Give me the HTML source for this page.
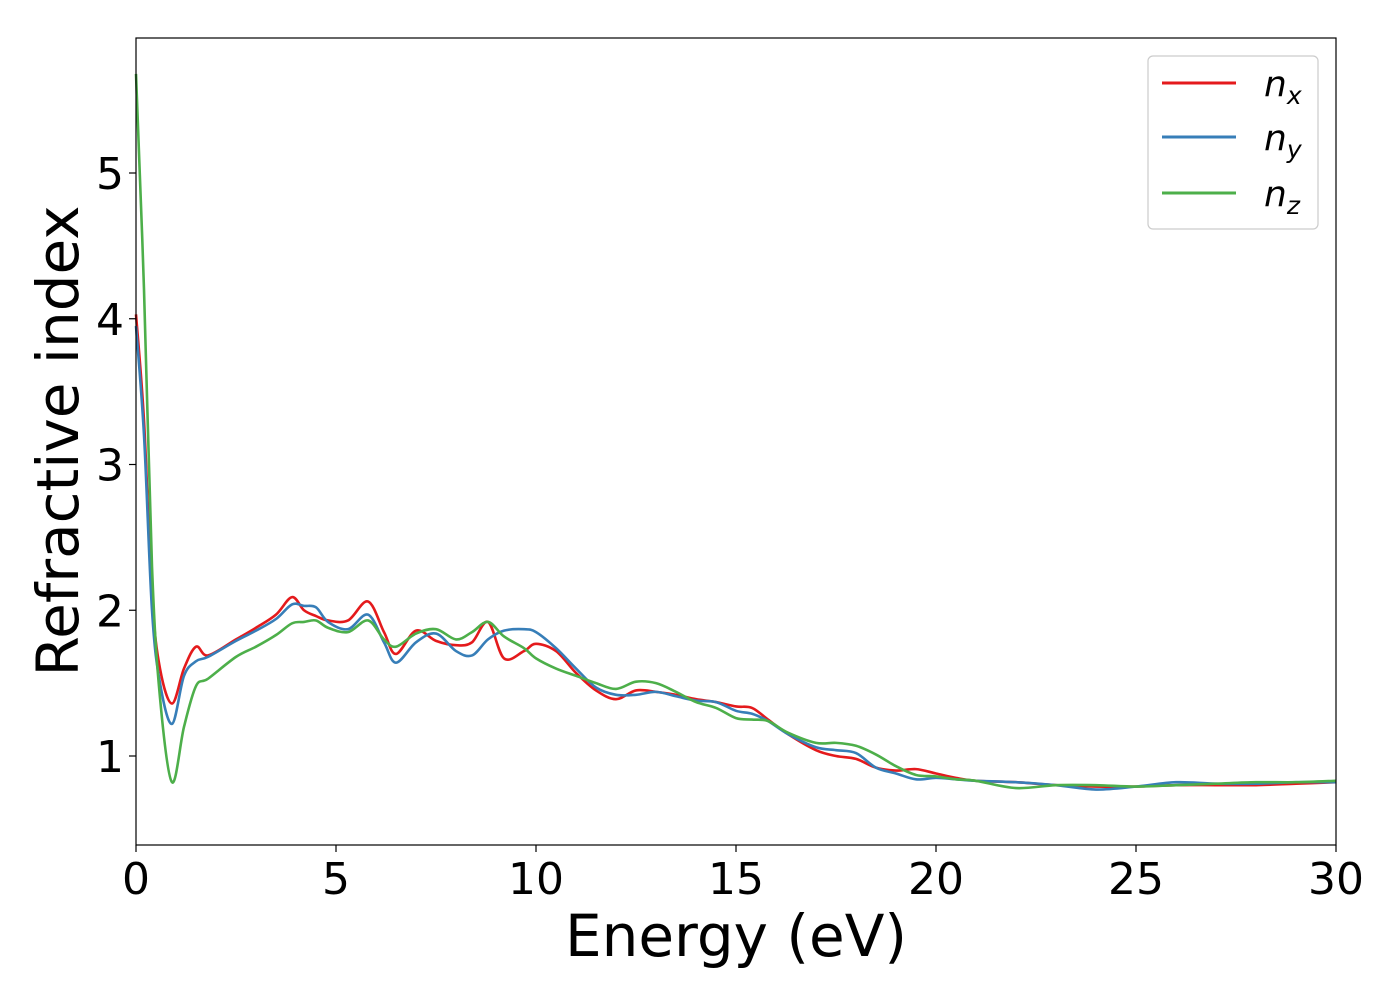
<!DOCTYPE html>
<html><head><meta charset="utf-8"><style>body{margin:0;background:#fff}svg{display:block}text{font-family:"DejaVu Sans","Liberation Sans",sans-serif}</style></head>
<body>
<svg id="chart" width="1400" height="1000" xmlns="http://www.w3.org/2000/svg">
<rect x="0" y="0" width="1400" height="1000" fill="#fff"/>
<g id="series"></g>
<g id="axes"></g>
<rect x="136" y="38" width="1200" height="807" fill="none" stroke="#000" stroke-width="1.2"/>
<text x="736" y="956" font-size="58" text-anchor="middle">Energy (eV)</text>
<text transform="translate(78,441) rotate(-90)" font-size="58" text-anchor="middle">Refractive index</text>
<g>
<rect x="1148" y="56" width="170" height="173" rx="5" fill="#fff" stroke="#ccc" stroke-width="1.2"/>
<line x1="1162" y1="83" x2="1236" y2="83" stroke="#e41a1c" stroke-width="3"/>
<text x="1264" y="96" font-size="36" font-style="italic">n<tspan font-size="25" dy="8">x</tspan></text>
<line x1="1162" y1="137" x2="1236" y2="137" stroke="#377eb8" stroke-width="3"/>
<text x="1264" y="150" font-size="36" font-style="italic">n<tspan font-size="25" dy="8">y</tspan></text>
<line x1="1162" y1="193" x2="1236" y2="193" stroke="#4daf4a" stroke-width="3"/>
<text x="1264" y="206" font-size="36" font-style="italic">n<tspan font-size="25" dy="8">z</tspan></text>
</g>
</svg>
<script>
const energies=[0,0.2,0.4,0.6,0.9,1.2,1.5,1.8,2.5,3,3.5,3.9,4.2,4.5,4.8,5.3,5.8,6.2,6.5,7,7.5,8,8.4,8.8,9.2,9.7,10,10.5,11,11.5,12,12.5,13,13.5,14,14.5,15,15.4,15.8,16.3,17,17.5,18,18.5,19,19.5,20,20.5,21,22,23,24,25,26,27,28,29,30];
const nx=[4.03,3.3,2.1,1.6,1.36,1.6,1.75,1.69,1.8,1.88,1.97,2.09,2.0,1.96,1.93,1.93,2.06,1.85,1.70,1.86,1.79,1.76,1.78,1.92,1.67,1.72,1.77,1.72,1.57,1.45,1.39,1.45,1.44,1.42,1.39,1.37,1.34,1.33,1.25,1.15,1.04,1.0,0.98,0.92,0.90,0.91,0.88,0.85,0.83,0.82,0.80,0.79,0.79,0.80,0.80,0.80,0.81,0.82];
const ny=[3.95,3.2,2.0,1.5,1.22,1.55,1.65,1.68,1.79,1.86,1.94,2.04,2.03,2.02,1.92,1.87,1.97,1.78,1.64,1.78,1.84,1.72,1.69,1.80,1.86,1.87,1.85,1.74,1.60,1.47,1.42,1.42,1.44,1.41,1.38,1.37,1.31,1.29,1.24,1.15,1.06,1.04,1.02,0.92,0.88,0.84,0.85,0.84,0.83,0.82,0.80,0.77,0.79,0.82,0.81,0.81,0.82,0.82];
const nz=[5.68,4.2,2.3,1.4,0.82,1.2,1.48,1.53,1.68,1.75,1.83,1.91,1.92,1.93,1.88,1.85,1.93,1.80,1.75,1.84,1.87,1.80,1.85,1.92,1.82,1.74,1.67,1.60,1.55,1.50,1.46,1.51,1.50,1.44,1.37,1.33,1.26,1.25,1.24,1.16,1.09,1.09,1.07,1.01,0.93,0.87,0.86,0.84,0.83,0.78,0.80,0.80,0.79,0.80,0.81,0.82,0.82,0.83];
const xTicks=[0,5,10,15,20,25,30];
const yTicks=[1,2,3,4,5];
const NS="http://www.w3.org/2000/svg";
function xs(v){return 136+v*40;}
function ys(v){return 756-(v-1)*145.75;}
function mk(t,a){const e=document.createElementNS(NS,t);for(const k in a)e.setAttribute(k,a[k]);return e;}
const axes=document.getElementById('axes');
xTicks.forEach(t=>{
 const l=mk('line',{x1:xs(t),x2:xs(t),y1:845,y2:852,stroke:'#000','stroke-width':1.2});
 
 
 axes.appendChild(l);
 const tx=mk('text',{x:xs(t),y:894,'font-size':44,'text-anchor':'middle'});
 tx.textContent=t;
 
 
 axes.appendChild(tx);
});
yTicks.forEach(t=>{
 const l=mk('line',{x1:129,x2:136,y1:ys(t),y2:ys(t),stroke:'#000','stroke-width':1.2});
 
 
 axes.appendChild(l);
 const tx=mk('text',{x:124,y:ys(t)+16,'font-size':44,'text-anchor':'end'});
 tx.textContent=t;
 
 
 axes.appendChild(tx);
});
function pathFor(vals){
 const p=energies.map((e,i)=>[xs(e),ys(vals[i])]);
 let d='M'+p[0][0]+','+p[0][1];
 for(let i=0;i<p.length-1;i++){
  const p0=p[Math.max(0,i-1)],p1=p[i],p2=p[i+1],p3=p[Math.min(p.length-1,i+2)];
  const c1=[p1[0]+(p2[0]-p0[0])/6,p1[1]+(p2[1]-p0[1])/6];
  const c2=[p2[0]-(p3[0]-p1[0])/6,p2[1]-(p3[1]-p1[1])/6];
  d+=` C${c1[0]},${c1[1]} ${c2[0]},${c2[1]} ${p2[0]},${p2[1]}`;
 }
 return d;
}
const sg=document.getElementById('series');
[[nx,'#e41a1c','series-nx'],[ny,'#377eb8','series-ny'],[nz,'#4daf4a','series-nz']].forEach(s=>{
 const el=mk('path',{d:pathFor(s[0]),fill:'none',stroke:s[1],'stroke-width':2.6,'stroke-linejoin':'round'});
 
 
 sg.appendChild(el);
});
</script>
</body></html>
